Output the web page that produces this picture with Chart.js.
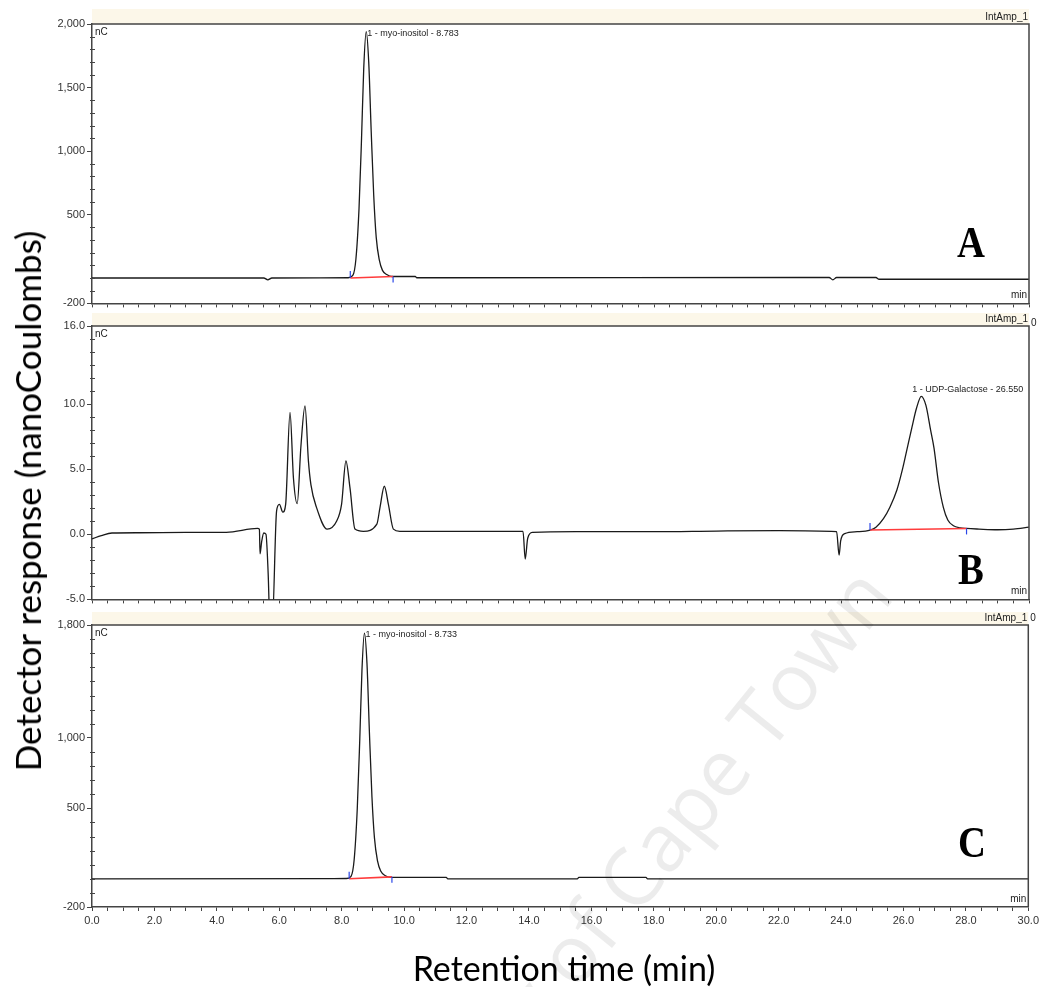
<!DOCTYPE html>
<html>
<head>
<meta charset="utf-8">
<title>Chromatograms A / B / C</title>
<script src="https://cdn.jsdelivr.net/npm/chart.js@4.4.1/dist/chart.umd.min.js"></script>
<style>
  body { margin: 0; background: #fff; }
  #page { position: relative; width: 1042px; height: 987px; overflow: hidden; background: #fff; }
  #page canvas { position: absolute; left: 0; }
  #yTitle { position: absolute; left: 27px; top: 501px; white-space: nowrap;
            font: 35px Lato, "Open Sans", sans-serif; color: #000;
            transform: translate(-50%, -50%) rotate(-90deg); }
  #xTitle { position: absolute; left: 564px; top: 967px; white-space: nowrap;
            font: 34px Lato, "Open Sans", sans-serif; color: #000;
            transform: translate(-50%, -50%); }
  .letter { position: absolute; font: bold 44px "Liberation Serif", serif; line-height: 1; color: #000;
            transform: translate(-50%, -50%) scaleX(0.88); }
  #watermark { position: absolute; right: 182px; top: 528px; height: 80px; line-height: 80px;
               white-space: nowrap; font: 80px "Open Sans", sans-serif; color: rgba(0,0,0,0.075);
               transform-origin: 100% 50%; transform: rotate(-51deg); pointer-events: none; }
</style>
</head>
<body>
<div id="page">
  <canvas id="chartA" width="1042" height="312" style="top:0px"></canvas>
  <canvas id="chartB" width="1042" height="296" style="top:312px"></canvas>
  <canvas id="chartC" width="1042" height="340" style="top:608px"></canvas>
  <div id="yTitle">Detector response (nanoCoulombs)</div>
  <div id="xTitle">Retention time (min)</div>
  <div class="letter" style="left:971px; top:243px">A</div>
  <div class="letter" style="left:971px; top:570px">B</div>
  <div class="letter" style="left:972px; top:843px">C</div>
  <div id="watermark">University of Cape Town</div>
</div>
<script>
// ---- values (time in min, signal in nC) ----

// A : myo-inositol standard
const timesA  = [0, 5.5, 5.63, 5.76, 8.2, 8.35, 8.45, 8.55, 8.63, 8.7, 8.78, 8.86, 8.94, 9.02, 9.1, 9.2, 9.3, 9.45, 9.6, 10.35, 10.4, 23.6, 23.72, 23.84, 25.1, 25.2, 30];
const signalA = [0, 0, -14, 0, 2, 20, 150, 550, 1100, 1650, 1940, 1700, 1150, 650, 320, 140, 60, 25, 12, 12, 2, 4, -14, 4, 4, -10, -10];
const baseTimesA  = [8.27, 9.64];
const baseValuesA = [0, 12];

// B : UDP-Galactose sample
const timesB  = [0, 0.3, 0.64, 1.5, 3.0, 4.3, 5.3, 5.36, 5.38, 5.43, 5.5, 5.57, 5.64, 5.7, 5.77, 5.91, 6.0, 6.11, 6.2,
                 6.34, 6.45, 6.57, 6.69, 6.82, 6.93, 7.01, 7.19, 7.53, 7.83, 7.99, 8.13, 8.26, 8.42, 8.69,
                 9.12, 9.22, 9.36, 9.49, 9.65, 9.86, 11.0, 12.5, 13.8, 13.87, 13.95, 14.1, 15.5, 18.0, 20.0, 22.0,
                 23.84, 23.92, 23.97, 24.1, 24.5, 24.91, 25.1, 25.34, 25.55, 25.77, 25.95, 26.1, 26.25, 26.4,
                 26.55, 26.7, 26.85, 26.96, 27.1, 27.26, 27.4, 27.58, 27.8, 28.0, 28.4, 29.0, 29.5, 30.0];
const signalB = [-0.35, -0.1, 0.1, 0.12, 0.15, 0.15, 0.45, 0.4, -1.5, -0.6, 0.1, 0.0, -3.0, -7.0, -7.0, 1.8, 2.3, 1.7, 2.3,
                 9.37, 4.3, 2.35, 6.8, 9.87, 5.6, 3.8, 2.05, 0.4, 1.0, 2.3, 5.63, 3.56, 0.4, 0.23,
                 0.78, 2.05, 3.69, 2.3, 0.4, 0.23, 0.22, 0.22, 0.22, -1.9, -0.3, 0.15, 0.2, 0.2, 0.25, 0.28,
                 0.2, -1.6, -0.5, 0.05, 0.2, 0.33, 0.55, 1.2, 2.1, 3.4, 5.0, 6.6, 8.2, 9.7,
                 10.6, 9.9, 8.0, 6.6, 4.0, 2.05, 1.1, 0.66, 0.5, 0.45, 0.4, 0.35, 0.4, 0.55];
const baseTimesB  = [24.91, 28.0];
const baseValuesB = [0.33, 0.45];

// C : myo-inositol in sample
const timesC  = [0, 8.15, 8.3, 8.4, 8.5, 8.58, 8.65, 8.73, 8.81, 8.89, 8.97, 9.05, 9.15, 9.25, 9.4, 9.6, 11.35, 11.4, 15.55, 15.6, 17.75, 17.8, 30];
const signalC = [0, 2, 18, 135, 500, 990, 1480, 1743, 1530, 1030, 580, 290, 125, 55, 22, 10, 10, 0, 0, 10, 10, 0, 0];
const baseTimesC  = [8.24, 9.61];
const baseValuesC = [0, 14];

// tick labels and annotations
const xTickLabels = [0, 2, 4, 6, 8, 10, 12, 14, 16, 18, 20, 22, 24, 26, 28, 30];
const yLabelsA = [-200, 500, 1000, 1500, 2000];
const yLabelsB = [-5, 0, 5, 10, 16];
const yLabelsC = [-200, 500, 1000, 1800];
const peakNames = ['1 - myo-inositol - 8.783', '1 - UDP-Galactose - 26.550', '1 - myo-inositol - 8.733'];
const peakTimes = [8.783, 26.55, 8.733];
const channelNames = ['IntAmp_1', 'IntAmp_1', 'IntAmp_1'];

function pts(ts, vs) { return ts.map((t, i) => ({ x: t, y: vs[i] })); }
function range(a, b, step) { var out = []; for (var v = a; v <= b + 1e-9; v += step) out.push(Math.round(v * 100) / 100); return out; }
const commas = v => v.toLocaleString('en-US');
const oneDec = v => v.toFixed(1);

// cream band, frame, small labels, integration marks
const panelDecor = {
  id: 'panelDecor',
  beforeDraw(chart, args, o) {
    const { ctx, chartArea: a } = chart;
    ctx.save();
    ctx.fillStyle = '#fcf7e9';
    ctx.fillRect(a.left, o.bandTop, a.right - a.left, a.top - o.bandTop);
    ctx.restore();
  },
  afterDraw(chart, args, o) {
    const { ctx, chartArea: a, scales: { x, y } } = chart;
    ctx.save();
    ctx.strokeStyle = '#444';
    ctx.lineWidth = 1.5;
    ctx.beginPath();
    ctx.moveTo(a.left, a.top); ctx.lineTo(a.right, a.top); ctx.lineTo(a.right, a.bottom);
    ctx.stroke();

    // minor ticks straddling the left axis
    ctx.lineWidth = 1;
    y.ticks.forEach(t => {
      if (o.yLabels.includes(t.value)) return;
      const py = Math.round(y.getPixelForValue(t.value)) + 0.5;
      ctx.beginPath(); ctx.moveTo(a.left - 2, py); ctx.lineTo(a.left + 3, py); ctx.stroke();
    });

    // integration start / end markers
    ctx.strokeStyle = '#2a46e8';
    ctx.lineWidth = 1.2;
    const sx = x.getPixelForValue(o.baseT[0]), sy = y.getPixelForValue(o.baseV[0]);
    const ex = x.getPixelForValue(o.baseT[1]), ey = y.getPixelForValue(o.baseV[1]);
    ctx.beginPath(); ctx.moveTo(sx, sy); ctx.lineTo(sx, sy - 7); ctx.stroke();
    ctx.beginPath(); ctx.moveTo(ex, ey); ctx.lineTo(ex, ey + 6); ctx.stroke();

    ctx.fillStyle = '#222';
    ctx.font = '10px "Liberation Sans", Arial, sans-serif';
    ctx.textAlign = 'right'; ctx.textBaseline = 'bottom';
    ctx.fillText(o.channel, a.right - 1, a.top - 2);
    if (o.stray) { ctx.textAlign = 'left'; ctx.fillText('0', a.right + 2, a.top + o.strayDy); }
    ctx.textAlign = 'right';
    ctx.fillText('min', a.right - 2, a.bottom - 3);
    ctx.textAlign = 'left'; ctx.textBaseline = 'top';
    ctx.fillText('nC', a.left + 3, a.top + 3);

    // peak annotation next to the apex
    const apex = Math.max(...o.signal);
    const px = x.getPixelForValue(o.peakT), py = y.getPixelForValue(apex);
    ctx.font = '9px "Liberation Sans", Arial, sans-serif';
    ctx.textBaseline = 'middle';
    ctx.fillText(o.peakName, px + o.dx, py + o.dy);
    ctx.restore();
  }
};

function makePanel(id, p) {
  return new Chart(document.getElementById(id), {
    type: 'line',
    data: {
      datasets: [
        { data: pts(p.times, p.signal), borderColor: '#1a1a1a', borderWidth: 1.3, pointRadius: 0,
          cubicInterpolationMode: 'monotone', order: 1 },
        { data: pts(p.baseT, p.baseV), borderColor: '#ff3b3b', borderWidth: 1.6, pointRadius: 0, order: 0 }
      ]
    },
    options: {
      responsive: false,
      animation: false,
      events: [],
      layout: { padding: { top: p.padTop, right: 13, left: 0, bottom: 0 } },
      plugins: {
        legend: { display: false },
        tooltip: { enabled: false },
        panelDecor: {
          bandTop: p.bandTop, yLabels: p.yLabels, baseT: p.baseT, baseV: p.baseV, channel: p.channel,
          stray: p.stray, strayDy: p.strayDy, signal: p.signal, peakT: p.peakT, peakName: p.peakName, dx: p.dx, dy: p.dy
        }
      },
      scales: {
        x: {
          type: 'linear', min: 0, max: 30,
          ticks: {
            stepSize: 0.5, autoSkip: false, maxRotation: 0, minRotation: 0, padding: 3,
            callback: v => (p.showX && xTickLabels.includes(v)) ? v.toFixed(1) : '',
            font: { family: 'Liberation Sans', size: 11 }, color: '#333'
          },
          grid: { drawOnChartArea: false, tickLength: 4, tickColor: '#444', tickWidth: 1 },
          border: { color: '#444', width: 1.5 },
          afterFit: s => { s.height = p.xHeight; }
        },
        y: {
          min: p.yMin, max: p.yMax,
          afterBuildTicks: s => { s.ticks = range(p.yMin, p.yMax, p.yStep).map(v => ({ value: v })); },
          ticks: {
            autoSkip: false, padding: 2,
            callback: v => p.yLabels.includes(v) ? p.fmt(v) : '',
            font: { family: 'Liberation Sans', size: 11 }, color: '#333'
          },
          grid: {
            drawOnChartArea: false, tickLength: 5,
            tickColor: c => p.yLabels.includes(c.tick.value) ? '#444' : 'rgba(0,0,0,0)'
          },
          border: { color: '#444', width: 1.5 },
          afterFit: s => { s.width = 92; }
        }
      }
    },
    plugins: [panelDecor]
  });
}

makePanel('chartA', {
  times: timesA, signal: signalA, baseT: baseTimesA, baseV: baseValuesA,
  yMin: -200, yMax: 2000, yStep: 100, yLabels: yLabelsA, fmt: commas,
  padTop: 24, bandTop: 9, xHeight: 5, showX: false,
  channel: channelNames[0], stray: false, peakT: peakTimes[0], peakName: peakNames[0], dx: 1, dy: 2
});
makePanel('chartB', {
  times: timesB, signal: signalB, baseT: baseTimesB, baseV: baseValuesB,
  yMin: -5, yMax: 16, yStep: 1, yLabels: yLabelsB, fmt: oneDec,
  padTop: 14, bandTop: 1, xHeight: 5, showX: false,
  channel: channelNames[1], stray: true, strayDy: 2, peakT: peakTimes[1], peakName: peakNames[1], dx: -9, dy: -7
});
makePanel('chartC', {
  times: timesC, signal: signalC, baseT: baseTimesC, baseV: baseValuesC,
  yMin: -200, yMax: 1800, yStep: 100, yLabels: yLabelsC, fmt: commas,
  padTop: 17, bandTop: 4, xHeight: 41, showX: true,
  channel: channelNames[2], stray: true, strayDy: -2, peakT: peakTimes[2], peakName: peakNames[2], dx: 1, dy: 1
});
</script>
</body>
</html>
